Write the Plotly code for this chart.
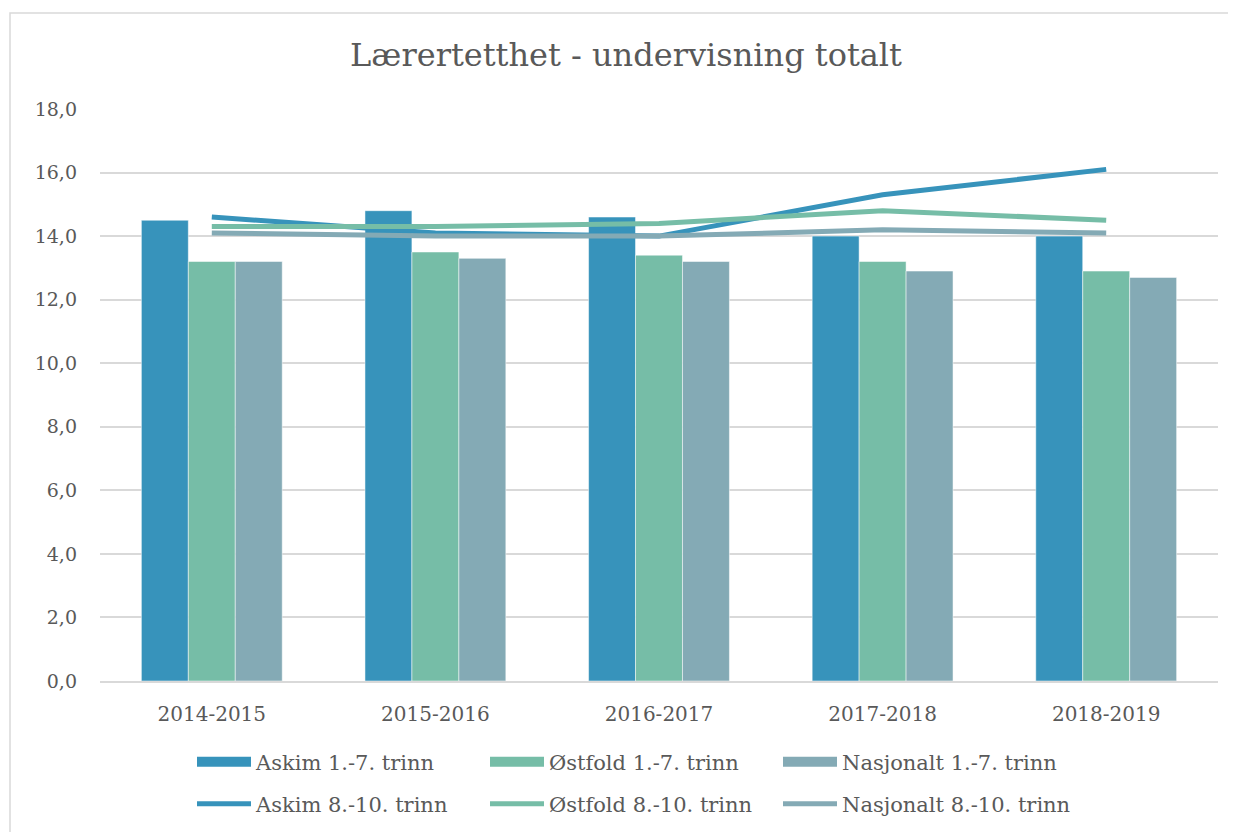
import plotly.graph_objects as go

years = ["2014-2015", "2015-2016", "2016-2017", "2017-2018", "2018-2019"]
askim_1_7 = [14.5, 14.8, 14.6, 14.0, 14.0]
ostfold_1_7 = [13.2, 13.5, 13.4, 13.2, 12.9]
nasjonalt_1_7 = [13.2, 13.3, 13.2, 12.9, 12.7]
askim_8_10 = [14.6, 14.1, 14.0, 15.3, 16.1]
ostfold_8_10 = [14.3, 14.3, 14.4, 14.8, 14.5]
nasjonalt_8_10 = [14.1, 14.0, 14.0, 14.2, 14.1]

C_ASKIM = "#3793BB"
C_OST = "#76BDA7"
C_NAS = "#84AAB5"
TXT = "#595959"
FONT = "DejaVu Serif"

fig = go.Figure()
bar_series = [("Askim 1.-7. trinn", askim_1_7, C_ASKIM),
              ("Østfold 1.-7. trinn", ostfold_1_7, C_OST),
              ("Nasjonalt 1.-7. trinn", nasjonalt_1_7, C_NAS)]
for name, vals, col in bar_series:
    fig.add_trace(go.Bar(x=years, y=vals, name=name, marker_color=col,
                         marker_line_color="white", marker_line_width=0.5,
                         showlegend=False))
# legend entries for the bars drawn as wide rectangles
for name, vals, col in bar_series:
    fig.add_trace(go.Scatter(x=[None], y=[None], name=name, mode="lines",
                             line=dict(color=col, width=13), legend="legend",
                             hoverinfo="skip"))
for name, vals, col in [("Askim 8.-10. trinn", askim_8_10, C_ASKIM),
                        ("Østfold 8.-10. trinn", ostfold_8_10, C_OST),
                        ("Nasjonalt 8.-10. trinn", nasjonalt_8_10, C_NAS)]:
    fig.add_trace(go.Scatter(x=years, y=vals, name=name, mode="lines",
                             line=dict(color=col, width=5), legend="legend2"))

OFF = 8  # page body margin
W, H = 1236, 832
# target screen positions of the plot area
SX0, SX1, SY0, SY1 = 100, 1218, 109, 681
L = SX0 - OFF
R = W - (SX1 - OFF)
T = SY0 - OFF
B = H - (SY1 - OFF)
pw, ph = SX1 - SX0, SY1 - SY0

def px_x(x):
    return (x - SX0) / pw

def px_y(y):
    return (SY1 - y) / ph

leg_common = dict(orientation="h", xanchor="left", yanchor="middle",
                  entrywidth=224, entrywidthmode="pixels", itemwidth=54,
                  bgcolor="rgba(0,0,0,0)",
                  font=dict(family=FONT, size=21, color=TXT), traceorder="normal")

fig.update_layout(
    width=W, height=H,
    margin=dict(l=L, r=R, t=T, b=B, autoexpand=False),
    paper_bgcolor="white", plot_bgcolor="white",
    separators=", ",
    font=dict(family=FONT, color=TXT, size=19),
    title=dict(text="Lærertetthet - undervisning totalt", x=0.5, xanchor="center",
               y=1 - (55 - OFF) / H, yanchor="middle",
               font=dict(family=FONT, size=32, color=TXT)),
    barmode="group", bargap=0.37, bargroupgap=0,
    xaxis=dict(showgrid=False, showline=True, linecolor="#D9D9D9", linewidth=1.5,
               ticks="", tickfont=dict(size=20, color=TXT), ticklabelstandoff=14),
    yaxis=dict(range=[0, 18], dtick=2, tickformat=".1f", showgrid=True,
               gridcolor="#D9D9D9", gridwidth=1.5, zeroline=False, showline=False,
               ticks="", ticklen=0, tickfont=dict(size=19, color=TXT),
               ticklabelstandoff=22),
    legend=dict(x=px_x(192), y=px_y(762), **leg_common),
    legend2=dict(x=px_x(192), y=px_y(804), **leg_common),
    shapes=[dict(type="rect", xref="paper", yref="paper",
                 x0=px_x(10), x1=px_x(1231), y0=px_y(845), y1=px_y(13),
                 line=dict(color="#D9D9D9", width=1.5), fillcolor="rgba(0,0,0,0)", layer="below")],
)

fig.write_html("out.html")
